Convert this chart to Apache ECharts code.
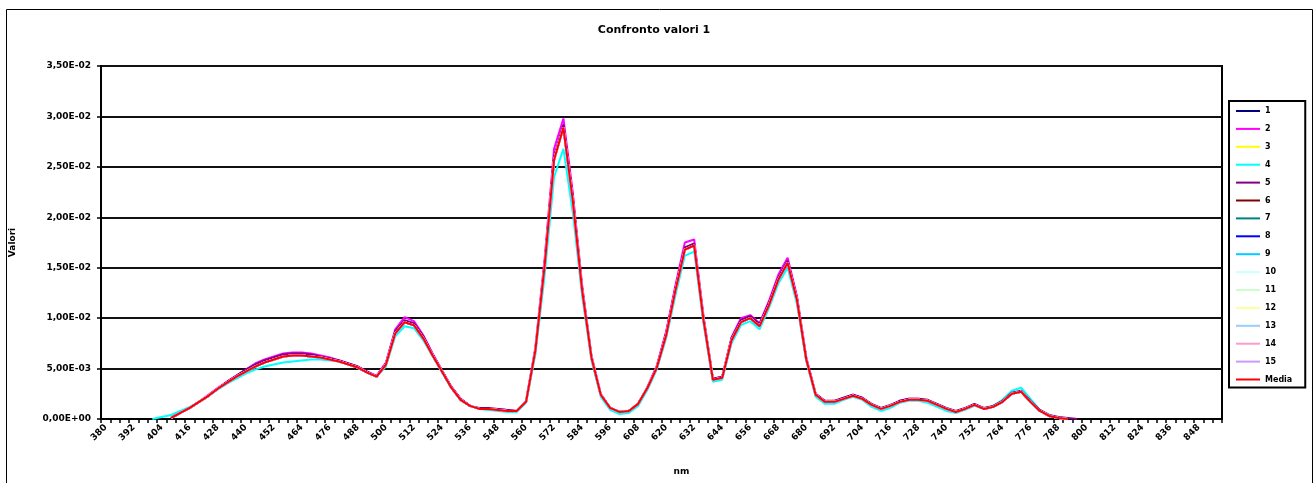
<!DOCTYPE html>
<html>
<head>
<meta charset="utf-8">
<script src="https://cdn.jsdelivr.net/npm/echarts@6/dist/echarts.min.js"></script>
<style>
html,body{margin:0;padding:0;background:#fff;}
#chart{width:1314px;height:483px;}
</style>
</head>
<body>
<div id="chart"></div>
<script>
// Wavelength categories (nm)
const categories = [380,384,388,392,396,400,404,408,412,416,420,424,428,432,436,440,444,448,452,456,
460,464,468,472,476,480,484,488,492,496,500,504,508,512,516,520,524,528,532,536,
540,544,548,552,556,560,564,568,572,576,580,584,588,592,596,600,604,608,612,616,
620,624,628,632,636,640,644,648,652,656,660,664,668,672,676,680,684,688,692,696,
700,704,708,712,716,720,724,728,732,736,740,744,748,752,756,760,764,768,772,776,
780,784,788,792,796,800,804,808,812,816,820,824,828,832,836,840,844,848,852,856];

const yTicks = [0,0.005,0.01,0.015,0.02,0.025,0.03,0.035];

const seriesNames = ['1','2','3','4','5','6','7','8','9','10','11','12','13','14','15','Media'];
const seriesColors = ['#000080','#FF00FF','#FFFF00','#00FFFF','#800080','#800000','#008080','#0000FF',
'#00CCFF','#CCFFFF','#CCFFCC','#FFFF99','#99CCFF','#FF99CC','#CC99FF','#FF0000'];

const media = [null,null,null,null,null,null,null,
0.0001,0.0006,0.0011,0.0017,0.0023,0.0030,0.0036,0.0042,0.0047,0.0052,0.0056,0.0059,0.0062,0.0063,
0.0063,0.0062,0.0061,0.0059,0.0057,0.0054,0.0051,0.0046,0.0042,0.0054,0.0085,0.0096,0.0093,0.0080,
0.0063,0.0047,0.0031,0.0019,0.0013,0.0010,0.0010,0.0009,0.0008,0.0008,0.0017,0.0068,0.0153,0.0257,
0.0289,0.0217,0.0128,0.0061,0.0024,0.0011,0.0007,0.0008,0.0015,0.0031,0.0051,0.0083,0.0128,0.0168,
0.0172,0.0098,0.0039,0.0041,0.0078,0.0096,0.0100,0.0092,0.0113,0.0138,0.0155,0.0118,0.0059,0.0024,
0.0017,0.0017,0.0020,0.0023,0.0020,0.0014,0.0010,0.0013,0.0017,0.0019,0.0019,0.0018,0.0014,0.0010,
0.0007,0.0010,0.0014,0.0010,0.0012,0.0017,0.0025,0.0027,0.0017,0.0008,0.0003,0.0001,0.0000,
null,null,null,null,null,null,null,null,null,null,null,null,null,null,null,null];

const s2 = [null,null,null,null,null,null,null,
0.0001,0.0006,0.0011,0.0017,0.0024,0.0031,0.0037,0.0043,0.0049,0.0055,0.0059,0.0062,0.0065,0.0066,
0.0066,0.0065,0.0063,0.0061,0.0058,0.0055,0.0052,0.0047,0.0043,0.0056,0.0089,0.0101,0.0097,0.0083,
0.0065,0.0048,0.0032,0.0020,0.0013,0.0010,0.0010,0.0010,0.0009,0.0008,0.0018,0.0071,0.0160,0.0268,
0.0298,0.0225,0.0133,0.0063,0.0025,0.0011,0.0007,0.0008,0.0015,0.0032,0.0053,0.0087,0.0133,0.0175,
0.0178,0.0102,0.0040,0.0042,0.0081,0.0100,0.0103,0.0095,0.0117,0.0143,0.0160,0.0122,0.0061,0.0025,
0.0017,0.0018,0.0021,0.0024,0.0021,0.0014,0.0010,0.0013,0.0018,0.0020,0.0020,0.0018,0.0014,0.0010,
0.0007,0.0010,0.0014,0.0010,0.0012,0.0017,0.0025,0.0027,0.0017,0.0008,0.0003,0.0001,0.0000,
null,null,null,null,null,null,null,null,null,null,null,null,null,null,null,null];

const s4 = [null,null,null,null,null,0.0000,0.0002,
0.0004,0.0008,0.0012,0.0017,0.0023,0.0029,0.0035,0.0040,0.0045,0.0049,0.0052,0.0054,0.0056,0.0057,
0.0058,0.0059,0.0059,0.0058,0.0057,0.0054,0.0051,0.0046,0.0042,0.0052,0.0082,0.0092,0.0090,0.0078,
0.0062,0.0046,0.0031,0.0019,0.0013,0.0010,0.0009,0.0008,0.0007,0.0007,0.0016,0.0064,0.0143,0.0240,
0.0268,0.0205,0.0122,0.0058,0.0022,0.0009,0.0005,0.0006,0.0013,0.0029,0.0049,0.0080,0.0123,0.0162,
0.0166,0.0094,0.0037,0.0039,0.0075,0.0093,0.0097,0.0089,0.0110,0.0134,0.0150,0.0114,0.0057,0.0022,
0.0015,0.0015,0.0019,0.0022,0.0019,0.0012,0.0008,0.0011,0.0016,0.0018,0.0018,0.0016,0.0012,0.0008,
0.0006,0.0009,0.0013,0.0010,0.0013,0.0019,0.0028,0.0031,0.0020,0.0009,0.0003,0.0001,0.0000,
null,null,null,null,null,null,null,null,null,null,null,null,null,null,null,null];

const s5 = [null,null,null,null,null,null,null,
0.0001,0.0006,0.0011,0.0017,0.0023,0.0030,0.0037,0.0043,0.0049,0.0054,0.0058,0.0061,0.0064,0.0065,
0.0065,0.0064,0.0062,0.0060,0.0058,0.0055,0.0052,0.0047,0.0042,0.0055,0.0087,0.0098,0.0095,0.0082,
0.0064,0.0048,0.0032,0.0020,0.0013,0.0011,0.0011,0.0010,0.0009,0.0008,0.0017,0.0069,0.0155,0.0260,
0.0292,0.0220,0.0130,0.0062,0.0024,0.0011,0.0007,0.0008,0.0015,0.0031,0.0052,0.0085,0.0130,0.0170,
0.0174,0.0100,0.0040,0.0042,0.0080,0.0098,0.0102,0.0094,0.0115,0.0140,0.0157,0.0120,0.0060,0.0025,
0.0018,0.0018,0.0021,0.0024,0.0021,0.0015,0.0011,0.0014,0.0018,0.0020,0.0020,0.0019,0.0015,0.0011,
0.0008,0.0011,0.0015,0.0011,0.0013,0.0018,0.0026,0.0028,0.0018,0.0009,0.0004,0.0002,0.0001,
0.0000,null,null,null,null,null,null,null,null,null,null,null,null,null,null,null];

// Series whose curves lie under the "Media" line in the picture
const s1 = media, s3 = media, s6 = media, s7 = media, s8 = media, s9 = media, s10 = media,
      s11 = media, s12 = media, s13 = media, s14 = media, s15 = media;
const seriesData = [s1,s2,s3,s4,s5,s6,s7,s8,s9,s10,s11,s12,s13,s14,s15,media];

function sci(v){
  if (v === 0) return '0,00E+00';
  const e = Math.floor(Math.log10(v) + 1e-9);
  const m = v / Math.pow(10, e);
  return m.toFixed(2).replace('.', ',') + 'E' + (e < 0 ? '-' : '+') + String(Math.abs(e)).padStart(2, '0');
}

const FONT = 'DejaVu Sans';
const chart = echarts.init(document.getElementById('chart'), null, {renderer:'canvas'});
chart.setOption({
  animation: false,
  backgroundColor: '#fff',
  title: {
    text: 'Confronto valori 1',
    left: 649, top: 20, textAlign: 'center',
    textStyle: {fontFamily: FONT, fontSize: 11, fontWeight: 'bold', color: '#000'}
  },
  graphic: [{
    type: 'rect', left: 4, top: 7, z: -10, silent: true,
    shape: {width: 1306, height: 490},
    style: {fill: 'none', stroke: '#000', lineWidth: 1}
  }],
  legend: {
    orient: 'vertical', left: 1229, top: 101,
    padding: [5, 13, 3, 7],
    itemWidth: 24, itemHeight: 2, itemGap: 7.9,
    icon: 'rect',
    borderColor: '#000', borderWidth: 2,
    textStyle: {fontFamily: FONT, fontSize: 8, fontWeight: 'bold', color: '#000', lineHeight: 10},
    data: seriesNames
  },
  grid: {
    left: 97, right: 92, top: 66, bottom: 64,
    show: true, borderColor: '#000', borderWidth: 2, backgroundColor: 'transparent'
  },
  xAxis: {
    type: 'category', data: categories, boundaryGap: true,
    name: 'nm', nameLocation: 'middle', nameGap: 48,
    nameTextStyle: {fontFamily: FONT, fontSize: 9, fontWeight: 'bold', color: '#000', padding: [0,0,0,40]},
    axisLine: {lineStyle: {color: '#000', width: 2}},
    axisTick: {show: true, interval: 0, length: 4, lineStyle: {color: '#000', width: 1.5}},
    axisLabel: {interval: 2, rotate: 45, margin: 7,
      fontFamily: FONT, fontSize: 9, fontWeight: 'bold', color: '#000'},
    splitLine: {show: false}
  },
  yAxis: {
    type: 'value', min: yTicks[0], max: yTicks[yTicks.length-1], interval: 0.005,
    name: 'Valori', nameLocation: 'middle', nameGap: 84, nameRotate: 90,
    nameTextStyle: {fontFamily: FONT, fontSize: 9, fontWeight: 'bold', color: '#000'},
    axisLine: {show: true, lineStyle: {color: '#000', width: 2}},
    axisTick: {show: true, length: 4, lineStyle: {color: '#000', width: 1.5}},
    axisLabel: {margin: 10, formatter: sci,
      fontFamily: FONT, fontSize: 9, fontWeight: 'bold', color: '#000'},
    splitLine: {show: true, lineStyle: {color: '#111', width: 2}}
  },
  series: seriesNames.map((n, k) => ({
    name: n, type: 'line', data: seriesData[k],
    color: seriesColors[k],
    showSymbol: false, symbol: 'none',
    connectNulls: false,
    lineStyle: {width: 2, color: seriesColors[k]},
    itemStyle: {color: seriesColors[k]},
    z: 2 + k
  }))
});
</script>
</body>
</html>
